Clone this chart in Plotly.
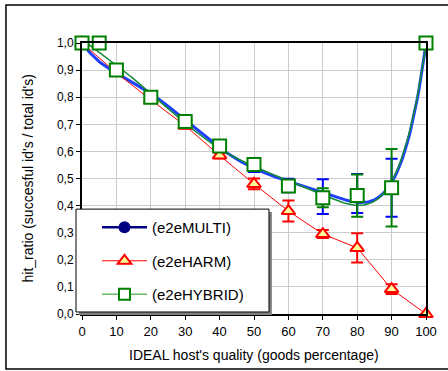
import numpy as np
import plotly.graph_objects as go

# ---- data ----
x_vals = [0, 10, 20, 30, 40, 50, 60, 70, 80, 90, 100]
multi = [1.0, 0.90, 0.80, 0.715, 0.62, 0.55, 0.474, 0.433, 0.445, 0.466, 1.0]
multi_err = [0.0, 0.005, 0.008, 0.015, 0.01, 0.026, 0.025, 0.064, 0.072, 0.107, 0.0]

harm = [1.0, 0.89, 0.79, 0.695, 0.585, 0.48, 0.38, 0.295, 0.244, 0.092, 0.0]
harm_err = [0.0, 0.005, 0.008, 0.01, 0.01, 0.02, 0.039, 0.015, 0.054, 0.018, 0.0]

hyb_x = [0, 5, 10, 20, 30, 40, 50, 60, 70, 80, 90, 100]
hybrid = [1.0, 1.0, 0.90, 0.80, 0.71, 0.62, 0.552, 0.472, 0.429, 0.437, 0.466, 1.0]
hybrid_err = [0.0, 0.0, 0.005, 0.008, 0.01, 0.01, 0.01, 0.02, 0.035, 0.078, 0.143, 0.0]

y_ticks = [0.0, 0.1, 0.2, 0.3, 0.4, 0.5, 0.6, 0.7, 0.8, 0.9, 1.0]
y_tick_text = ["0,0", "0,1", "0,2", "0,3", "0,4", "0,5", "0,6", "0,7", "0,8", "0,9", "1,0"]
x_ticks = [0, 10, 20, 30, 40, 50, 60, 70, 80, 90, 100]

names = ["(e2eMULTI)", "(e2eHARM)", "(e2eHYBRID)"]
x_title = "IDEAL host's quality (goods percentage)"
y_title = "hit_ratio (succesful id's / total id's)"

# ---- trendlines (polynomial fits of the data) ----
xs = np.linspace(0, 100, 201)
p_multi = np.polyfit(x_vals, multi, 6)
p_hyb = np.polyfit(hyb_x, hybrid, 6)

fig = go.Figure()

fig.add_trace(go.Scatter(x=xs, y=np.polyval(p_multi, xs), mode="lines",
                         line=dict(color="#1f3fff", width=3), showlegend=False, hoverinfo="skip"))
fig.add_trace(go.Scatter(x=xs, y=np.polyval(p_hyb, xs), mode="lines",
                         line=dict(color="#138a3a", width=1.5), showlegend=False, hoverinfo="skip"))

# MULTI points
fig.add_trace(go.Scatter(x=x_vals, y=multi, mode="markers",
                         marker=dict(symbol="circle", size=9, color="#000080"),
                         error_y=dict(type="data", array=multi_err, color="#0000FF", thickness=2, width=6),
                         showlegend=False, cliponaxis=False))
# HARM points
fig.add_trace(go.Scatter(x=x_vals, y=harm, mode="lines+markers",
                         line=dict(color="#FF0000", width=1),
                         marker=dict(symbol="triangle-up", size=12, color="#FFFF99",
                                     line=dict(color="#FF0000", width=2)),
                         error_y=dict(type="data", array=harm_err, color="#FF0000", thickness=2, width=6),
                         showlegend=False, cliponaxis=False))
# HYBRID points
fig.add_trace(go.Scatter(x=hyb_x, y=hybrid, mode="markers",
                         marker=dict(symbol="square", size=13, color="white",
                                     line=dict(color="#008000", width=2)),
                         error_y=dict(type="data", array=hybrid_err, color="#008000", thickness=2, width=6),
                         showlegend=False, cliponaxis=False))

# legend entries
fig.add_trace(go.Scatter(x=[None], y=[None], mode="lines+markers", name=names[0], legendgroup="a",
                         line=dict(color="#000080", width=2.5),
                         marker=dict(symbol="circle", size=12, color="#000080")))
fig.add_trace(go.Scatter(x=[None], y=[None], mode="lines+markers", name=names[1], legendgroup="b",
                         line=dict(color="#FF0000", width=1),
                         marker=dict(symbol="triangle-up", size=12, color="#FFFF99",
                                     line=dict(color="#FF0000", width=2))))
fig.add_trace(go.Scatter(x=[None], y=[None], mode="lines+markers", name=names[2], legendgroup="c",
                         line=dict(color="#66BB66", width=1.5),
                         marker=dict(symbol="square", size=11, color="white",
                                     line=dict(color="#008000", width=2))))

font_family = "Liberation Sans, Arial, sans-serif"

fig.update_layout(
    width=448, height=371,
    margin=dict(l=82, r=22, t=43, b=57),
    paper_bgcolor="white", plot_bgcolor="white",
    font=dict(family=font_family, size=12, color="black"),
    showlegend=True,
    legend=dict(x=0.0436, y=0.380, xanchor="left", yanchor="top",
                bgcolor="rgba(0,0,0,0)", borderwidth=0,
                font=dict(size=15, family=font_family),
                tracegroupgap=11, itemwidth=45),
    xaxis=dict(range=[0, 100], tickvals=x_ticks, showgrid=True, gridcolor="#CCCCCC", gridwidth=1,
               showline=True, linecolor="black", linewidth=2, mirror=True, zeroline=False,
               ticks="outside", ticklen=4, tickcolor="black", tickfont=dict(size=13)),
    yaxis=dict(range=[0, 1.0], tickvals=y_ticks, ticktext=y_tick_text, showgrid=True,
               gridcolor="#CCCCCC", gridwidth=1,
               showline=True, linecolor="black", linewidth=2, mirror=True, zeroline=False,
               ticks="outside", ticklen=4, tickcolor="black", tickfont=dict(size=12)),
    annotations=[
        dict(text=x_title, xref="paper", yref="paper", x=0.5, y=-0.151, xanchor="center",
             yanchor="middle", showarrow=False, font=dict(size=14)),
        dict(text=y_title, xref="paper", yref="paper", x=-0.157, y=0.5, xanchor="center",
             yanchor="middle", textangle=-90, showarrow=False, font=dict(size=14)),
    ],
    shapes=[
        # outer chart border
        dict(type="rect", xref="paper", yref="paper", x0=-0.221, x1=1.07, y0=-0.203, y1=1.140,
             line=dict(color="black", width=1.5), fillcolor="rgba(0,0,0,0)", layer="above"),
        # legend shadow
        dict(type="rect", xref="paper", yref="paper", x0=-0.0087, x1=0.552, y0=-0.0037, y1=0.376,
             line=dict(color="#808080", width=0), fillcolor="#808080", layer="above"),
        # legend box
        dict(type="rect", xref="paper", yref="paper", x0=-0.0174, x1=0.5436, y0=0.0074, y1=0.387,
             line=dict(color="black", width=1), fillcolor="white", layer="above"),
    ],
)

fig.write_html("out.html")
